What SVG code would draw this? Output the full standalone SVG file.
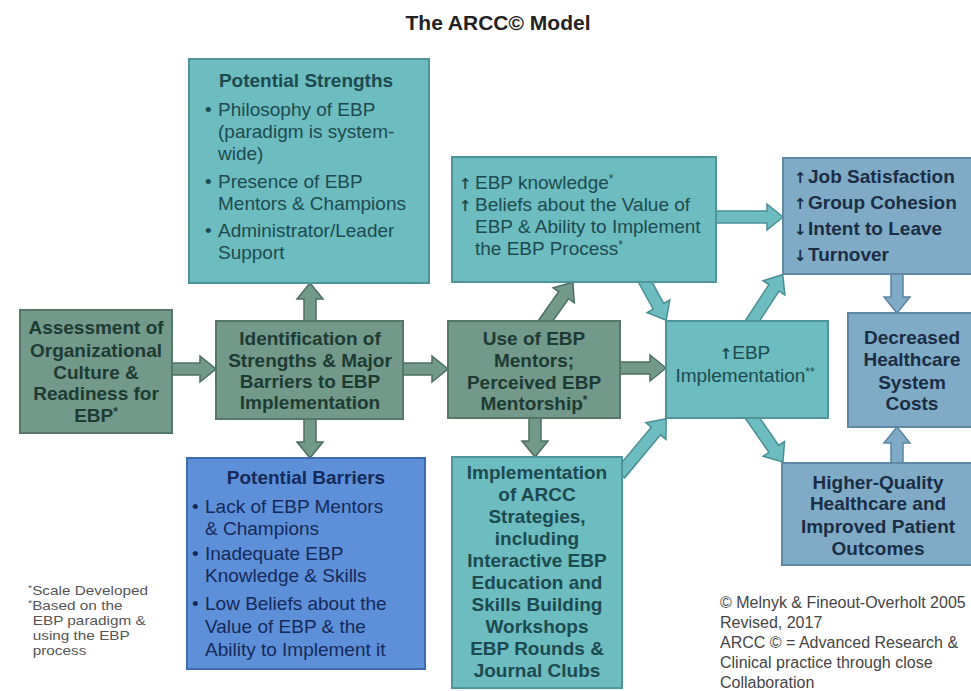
<svg xmlns="http://www.w3.org/2000/svg" width="971" height="691" viewBox="0 0 971 691">
<style>
text{font-family:"Liberation Sans",Arial,sans-serif;}
.bg{fill:#ffffff}
.g{fill:#72998a;stroke:#55776a;stroke-width:2}
.t{fill:#6cbcc0;stroke:#4e9499;stroke-width:2}
.s{fill:#7fabc6;stroke:#5e88a3;stroke-width:2}
.b{fill:#5d90d8;stroke:#3f6bb0;stroke-width:2}
.ag{fill:#72998a;stroke:#4e6e61;stroke-width:1.5}
.at{fill:#6cbcc0;stroke:#4a8f94;stroke-width:1.5}
.as{fill:#7fabc6;stroke:#5a84a0;stroke-width:1.5}
.bold{font-weight:bold;font-size:19px}
.reg{font-size:19px}
.cg{fill:#1e3b33}
.ct{fill:#1d4a4f}
.cs{fill:#1b2d45}
.cb{fill:#15295a}
.mid{text-anchor:middle}
.sup{font-size:12px}
.arr{font-family:"DejaVu Sans",sans-serif;font-weight:bold;font-size:15px}
.foot{font-size:13px;fill:#555555}
.copy{font-size:16px;fill:#444444}
</style>
<rect class="bg" x="0" y="0" width="971" height="691"/>
<text x="498" y="30" text-anchor="middle" font-size="21" font-weight="bold" fill="#222222">The ARCC© Model</text>

<g id="connectors">
<polygon class="ag" transform="translate(170,369)" points="0,-6 30,-6 30,-13 46,0 30,13 30,6 0,6"/>
<polygon class="ag" transform="translate(310,323) rotate(-90)" points="0,-6 24,-6 24,-13 40,0 24,13 24,6 0,6"/>
<polygon class="ag" transform="translate(310,417) rotate(90)" points="0,-6 25,-6 25,-13 41,0 25,13 25,6 0,6"/>
<polygon class="ag" transform="translate(401,369)" points="0,-6 31,-6 31,-13 47,0 31,13 31,6 0,6"/>
<polygon class="ag" transform="translate(544,323) rotate(-54.7)" points="0,-6 34,-6 34,-13 50,0 34,13 34,6 0,6"/>
<polygon class="ag" transform="translate(618,368)" points="0,-6 32,-6 32,-13 48,0 32,13 32,6 0,6"/>
<polygon class="ag" transform="translate(535,417) rotate(90)" points="0,-6 24,-6 24,-13 40,0 24,13 24,6 0,6"/>
<polygon class="at" transform="translate(644,280) rotate(61.2)" points="0,-6 30,-6 30,-13 46,0 30,13 30,6 0,6"/>
<polygon class="at" transform="translate(714,217)" points="0,-6 53,-6 53,-13 69,0 53,13 53,6 0,6"/>
<polygon class="at" transform="translate(620,474) rotate(-50.1)" points="0,-6 56,-6 56,-13 72,0 56,13 56,6 0,6"/>
<polygon class="at" transform="translate(751,323) rotate(-56.8)" points="0,-6 42,-6 42,-13 58,0 42,13 42,6 0,6"/>
<polygon class="at" transform="translate(751,416) rotate(55.2)" points="0,-6 40,-6 40,-13 56,0 40,13 40,6 0,6"/>
<polygon class="as" transform="translate(897,272) rotate(90)" points="0,-6 25,-6 25,-13 41,0 25,13 25,6 0,6"/>
<polygon class="as" transform="translate(897,465) rotate(-90)" points="0,-6 22,-6 22,-13 38,0 22,13 22,6 0,6"/>
</g>

<g id="assessment">
<rect class="g" x="20" y="310" width="152" height="123"/>
<text class="bold cg mid" x="96" y="334">Assessment of</text>
<text class="bold cg mid" x="96" y="357">Organizational</text>
<text class="bold cg mid" x="96" y="379">Culture &amp;</text>
<text class="bold cg mid" x="96" y="400">Readiness for</text>
<text class="bold cg mid" x="96" y="422">EBP<tspan class="sup" dy="-6">*</tspan></text>
</g>

<g id="identification">
<rect class="g" x="216" y="321" width="187" height="98"/>
<text class="bold cg mid" x="310" y="345">Identification of</text>
<text class="bold cg mid" x="310" y="367">Strengths &amp; Major</text>
<text class="bold cg mid" x="310" y="388">Barriers to EBP</text>
<text class="bold cg mid" x="310" y="409">Implementation</text>
</g>

<g id="strengths">
<rect class="t" x="189" y="59" width="240" height="224"/>
<text class="bold ct mid" x="306" y="87">Potential Strengths</text>
<text class="reg ct" x="205" y="116">•</text>
<text class="reg ct" x="218" y="116">Philosophy of EBP</text>
<text class="reg ct" x="218" y="138">(paradigm is system-</text>
<text class="reg ct" x="218" y="160">wide)</text>
<text class="reg ct" x="205" y="188">•</text>
<text class="reg ct" x="218" y="188">Presence of EBP</text>
<text class="reg ct" x="218" y="210">Mentors &amp; Champions</text>
<text class="reg ct" x="205" y="237">•</text>
<text class="reg ct" x="218" y="237">Administrator/Leader</text>
<text class="reg ct" x="218" y="259">Support</text>
</g>

<g id="barriers">
<rect class="b" x="187" y="458" width="238" height="211"/>
<text class="bold cb mid" x="306" y="484">Potential Barriers</text>
<text class="reg cb" x="192" y="513">•</text>
<text class="reg cb" x="205" y="513">Lack of EBP Mentors</text>
<text class="reg cb" x="205" y="535">&amp; Champions</text>
<text class="reg cb" x="192" y="560">•</text>
<text class="reg cb" x="205" y="560">Inadequate EBP</text>
<text class="reg cb" x="205" y="582">Knowledge &amp; Skills</text>
<text class="reg cb" x="192" y="610">•</text>
<text class="reg cb" x="205" y="610">Low Beliefs about the</text>
<text class="reg cb" x="205" y="633">Value of EBP &amp; the</text>
<text class="reg cb" x="205" y="656">Ability to Implement it</text>
</g>

<g id="knowledge">
<rect class="t" x="452" y="157" width="264" height="125"/>
<text class="reg ct" x="459" y="189"><tspan class="arr">↑</tspan><tspan x="475">EBP knowledge</tspan><tspan class="sup" dy="-6">*</tspan></text>
<text class="reg ct" x="459" y="211"><tspan class="arr">↑</tspan><tspan x="475">Beliefs about the Value of</tspan></text>
<text class="reg ct" x="475" y="233">EBP &amp; Ability to Implement</text>
<text class="reg ct" x="475" y="255">the EBP Process<tspan class="sup" dy="-6">*</tspan></text>
</g>

<g id="use-mentors">
<rect class="g" x="448" y="321" width="172" height="97"/>
<text class="bold cg mid" x="534" y="345">Use of EBP</text>
<text class="bold cg mid" x="534" y="367">Mentors;</text>
<text class="bold cg mid" x="534" y="389">Perceived EBP</text>
<text class="bold cg mid" x="534" y="410">Mentorship<tspan class="sup" dy="-6">*</tspan></text>
</g>

<g id="arcc-strategies">
<rect class="t" x="452" y="457" width="170" height="231"/>
<text class="bold ct mid" x="537" y="479">Implementation</text>
<text class="bold ct mid" x="537" y="501">of ARCC</text>
<text class="bold ct mid" x="537" y="523">Strategies,</text>
<text class="bold ct mid" x="537" y="545">including</text>
<text class="bold ct mid" x="537" y="567">Interactive EBP</text>
<text class="bold ct mid" x="537" y="589">Education and</text>
<text class="bold ct mid" x="537" y="611">Skills Building</text>
<text class="bold ct mid" x="537" y="633">Workshops</text>
<text class="bold ct mid" x="537" y="655">EBP Rounds &amp;</text>
<text class="bold ct mid" x="537" y="677">Journal Clubs</text>
</g>

<g id="ebp-implementation">
<rect class="t" x="666" y="321" width="162" height="97"/>
<text class="reg ct mid" x="745" y="359"><tspan class="arr">↑</tspan>EBP</text>
<text class="reg ct mid" x="745" y="382">Implementation<tspan class="sup" dy="-6">**</tspan></text>
</g>

<g id="job-satisfaction">
<rect class="s" x="783" y="158" width="195" height="116"/>
<text class="bold cs" x="794" y="183"><tspan class="arr">↑</tspan><tspan x="808">Job Satisfaction</tspan></text>
<text class="bold cs" x="794" y="209"><tspan class="arr">↑</tspan><tspan x="808">Group Cohesion</tspan></text>
<text class="bold cs" x="794" y="235"><tspan class="arr">↓</tspan><tspan x="808">Intent to Leave</tspan></text>
<text class="bold cs" x="794" y="261"><tspan class="arr">↓</tspan><tspan x="808">Turnover</tspan></text>
</g>

<g id="decreased-costs">
<rect class="s" x="848" y="313" width="130" height="114"/>
<text class="bold cs mid" x="912" y="344">Decreased</text>
<text class="bold cs mid" x="912" y="366">Healthcare</text>
<text class="bold cs mid" x="912" y="389">System</text>
<text class="bold cs mid" x="912" y="410">Costs</text>
</g>

<g id="higher-quality">
<rect class="s" x="782" y="463" width="196" height="102"/>
<text class="bold cs mid" x="878" y="489">Higher-Quality</text>
<text class="bold cs mid" x="878" y="510">Healthcare and</text>
<text class="bold cs mid" x="878" y="533">Improved Patient</text>
<text class="bold cs mid" x="878" y="555">Outcomes</text>
</g>

<g id="footnote" transform="translate(28,0) scale(1.18,1)">
<text class="foot" x="0" y="595"><tspan font-size="9" dy="-4">*</tspan><tspan dy="4">Scale Developed</tspan></text>
<text class="foot" x="0" y="610"><tspan font-size="9" dy="-4">*</tspan><tspan dy="4">Based on the</tspan></text>
<text class="foot" x="4" y="625">EBP paradigm &amp;</text>
<text class="foot" x="4" y="640">using the EBP</text>
<text class="foot" x="4" y="655">process</text>
</g>

<g id="copyright">
<text class="copy" x="720" y="608">© Melnyk &amp; Fineout-Overholt 2005</text>
<text class="copy" x="720" y="628">Revised, 2017</text>
<text class="copy" x="720" y="648">ARCC © = Advanced Research &amp;</text>
<text class="copy" x="720" y="668">Clinical practice through close</text>
<text class="copy" x="720" y="688">Collaboration</text>
</g>
</svg>
